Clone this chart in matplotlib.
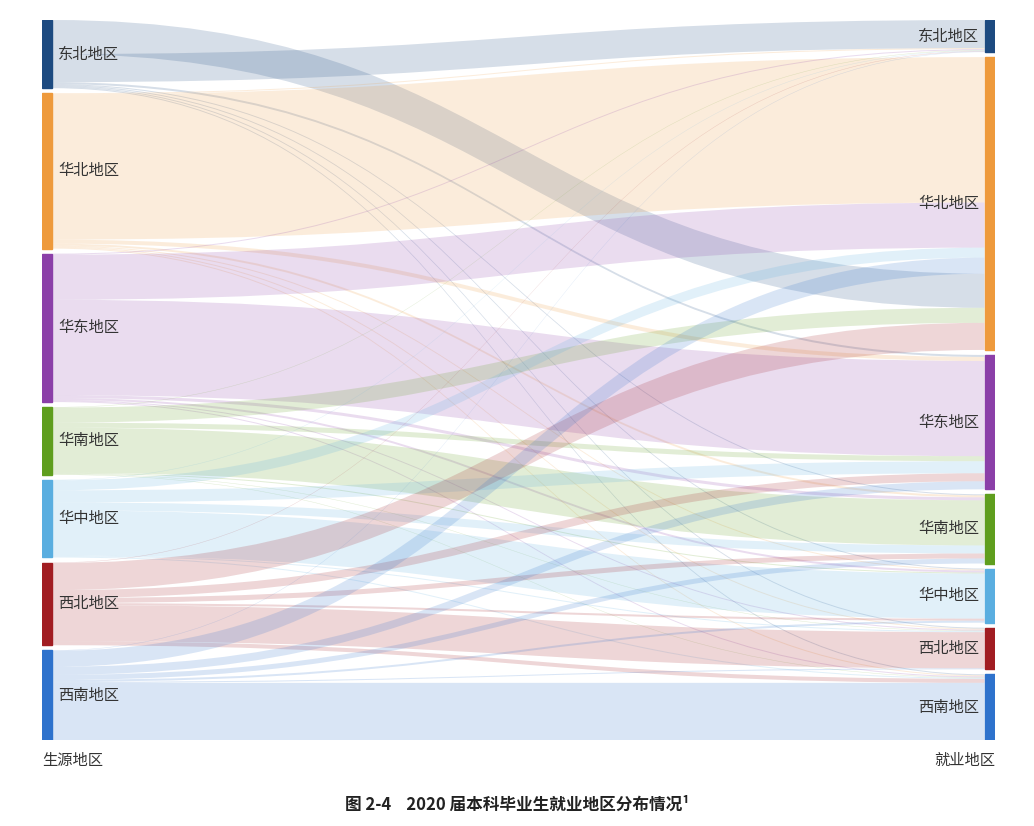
import matplotlib
matplotlib.use("Agg")
import matplotlib.pyplot as plt
from matplotlib.path import Path
from matplotlib.patches import PathPatch, Rectangle
import numpy as np

plt.rcParams['font.family'] = ['Noto Sans CJK SC', 'DejaVu Sans']

regions = ["东北地区", "华北地区", "华东地区", "华南地区", "华中地区", "西北地区", "西南地区"]
colors = ["#1d4a80", "#ee9a3c", "#8b3fa8", "#5f9e1e", "#5aaee0", "#a11d22", "#2e72cc"]
# flows[source][target]
flows = [
    [28, 34, 2, 1, 1, 1, 1],
    [1, 145, 4, 2, 1, 1, 1],
    [1, 45, 95, 3, 2, 1, 1],
    [0.5, 15, 5, 45, 1, 0.5, 0.5],
    [0.5, 10, 12, 8, 45, 1, 1],
    [0.5, 27, 8, 5, 2, 36, 4],
    [0.5, 16, 8, 5, 2, 1, 57],
]
F = np.array(flows, dtype=float)
gap = 5.0
n = len(regions)
src_tot = F.sum(axis=1)
tgt_tot = F.sum(axis=0)

# ordering of bands at each node
src_order = {i: list(range(n)) for i in range(n)}
src_order[0] = [1, 0, 2, 3, 4, 5, 6]
tgt_order = {j: list(range(n)) for j in range(n)}
tgt_order[1] = [1, 2, 4, 6, 0, 3, 5]

def starts(tot):
    s = []
    y = 0
    for t in tot:
        s.append(y)
        y += t + gap
    return s

src_y = starts(src_tot)
tgt_y = starts(tgt_tot)
total = max(src_tot.sum(), tgt_tot.sum()) + gap * (n - 1)

fig = plt.figure(figsize=(10.34, 8.26), dpi=100)
ax = fig.add_axes([42/1034, 1 - 740/826, (995-42)/1034, 720/826])
ax.set_xlim(0, 1)
ax.set_ylim(total, 0)
ax.axis('off')

bw = 0.011
x0, x1 = bw, 1 - bw
tgt_pos = {}
for j in range(n):
    y = tgt_y[j]
    for i in tgt_order[j]:
        tgt_pos[(i, j)] = y
        y += F[i, j]
src_pos = {}
for i in range(n):
    y = src_y[i]
    for j in src_order[i]:
        src_pos[(i, j)] = y
        y += F[i, j]

for i in range(n):
    for j in range(n):
        v = F[i, j]
        if v <= 0:
            continue
        a0 = src_pos[(i, j)]; a1 = a0 + v
        b0 = tgt_pos[(i, j)]; b1 = b0 + v
        xm = 0.5
        verts = [(x0, a0), (xm, a0), (xm, b0), (x1, b0),
                 (x1, b1), (xm, b1), (xm, a1), (x0, a1), (x0, a0)]
        codes = [Path.MOVETO, Path.CURVE4, Path.CURVE4, Path.CURVE4,
                 Path.LINETO, Path.CURVE4, Path.CURVE4, Path.CURVE4, Path.CLOSEPOLY]
        ax.add_patch(PathPatch(Path(verts, codes), facecolor=colors[i],
                               edgecolor='none', alpha=0.18))

for k in range(n):
    ax.add_patch(Rectangle((0, src_y[k]), bw, src_tot[k], color=colors[k]))
    ax.add_patch(Rectangle((1 - bw, tgt_y[k]), bw, tgt_tot[k], color=colors[k]))
    ax.text(bw + 0.006, src_y[k] + src_tot[k] / 2, regions[k], ha='left',
            va='center', fontsize=11, color='#333333')
    ax.text(1 - bw - 0.006, tgt_y[k] + tgt_tot[k] / 2, regions[k], ha='right',
            va='center', fontsize=11, color='#333333')

fig.text(42/1034, 1 - 760/826, "生源地区", ha='left', va='center', fontsize=11, color='#333333')
fig.text(995/1034, 1 - 760/826, "就业地区", ha='right', va='center', fontsize=11, color='#333333')
fig.text(0.5, 1 - 805/826, "图 2-4    2020 届本科毕业生就业地区分布情况¹", ha='center',
         va='center', fontsize=12, fontweight='bold', color='#222222')

fig.savefig("out.png", dpi=100, facecolor='white')
